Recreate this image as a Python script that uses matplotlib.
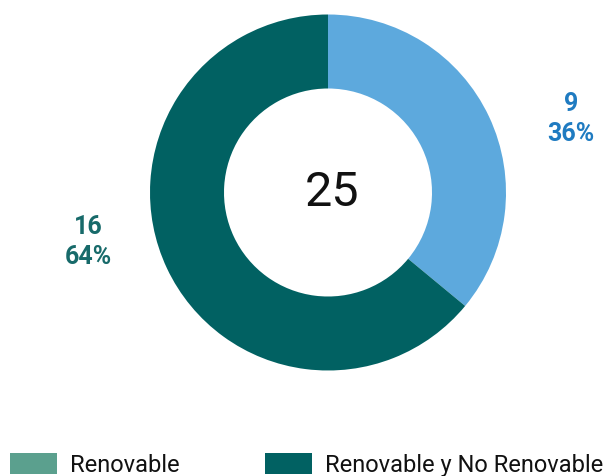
import matplotlib
matplotlib.use("Agg")
import matplotlib.pyplot as plt
from matplotlib.patches import Patch

categories = ["Renovable", "Renovable y No Renovable"]
values = [9, 16]
slice_colors = ["#5DA9DD", "#016162"]
legend_colors = ["#5BA08E", "#016162"]
label_colors = ["#1F7BC1", "#176A6A"]

total = sum(values)

fig = plt.figure(figsize=(6.09, 4.76), dpi=100)
ax = fig.add_axes([0, 0, 1, 1])

cx, cy = 328, 476 - 192.5
R = 178
wedges, _ = ax.pie(values, colors=slice_colors, startangle=90, counterclock=False,
                   center=(cx, cy), radius=R, wedgeprops=dict(width=74, linewidth=0),
                   frame=True)
ax.set_xlim(0, 609)
ax.set_ylim(0, 476)
ax.set_aspect("equal")
ax.axis("off")

ax.text(cx + 4, cy, str(total), ha="center", va="center", fontsize=35,
        family="Roboto", fontweight="normal", color="#111111")

label_pos = [(571, 476 - 119), (88, 476 - 242)]
for v, (lx, ly), c in zip(values, label_pos, label_colors):
    ax.text(lx, ly, f"{v}\n{v / total * 100:.0f}%", ha="center", va="center",
            fontsize=18, fontweight="bold", family="Roboto", color=c,
            linespacing=1.35)

handles = [Patch(facecolor=c, edgecolor="none") for c in legend_colors]
fig.legend(handles, categories, loc="upper left",
           bbox_to_anchor=(10 / 609, (476 - 453) / 476), ncol=2, frameon=False,
           borderpad=0, borderaxespad=0,
           prop=dict(family="Roboto", size=17),
           handlelength=2.0, handleheight=1.0, handletextpad=0.55,
           columnspacing=3.6, labelcolor="#111111")

fig.savefig("out.png", dpi=100)
